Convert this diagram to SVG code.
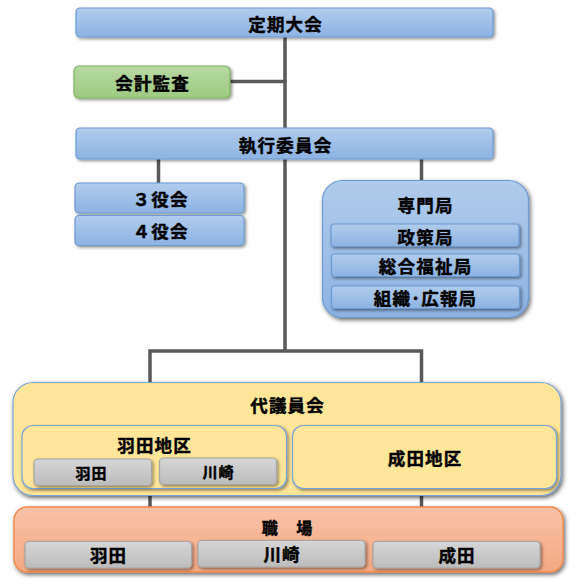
<svg xmlns="http://www.w3.org/2000/svg" width="576" height="580" viewBox="0 0 576 580">
<defs>
<linearGradient id="gBlue" x1="0" y1="0" x2="0" y2="1"><stop offset="0" stop-color="#B0CCEC"/><stop offset="1" stop-color="#8DB3E2"/></linearGradient>
<linearGradient id="gGreen" x1="0" y1="0" x2="0" y2="1"><stop offset="0" stop-color="#B7D9A3"/><stop offset="1" stop-color="#9DCA81"/></linearGradient>
<linearGradient id="gGray" x1="0" y1="0" x2="0" y2="1"><stop offset="0" stop-color="#D6D6D6"/><stop offset="1" stop-color="#BCBCBC"/></linearGradient>
<linearGradient id="gSalmon" x1="0" y1="0" x2="0" y2="1"><stop offset="0" stop-color="#F8C2A7"/><stop offset="1" stop-color="#F4A883"/></linearGradient>
<filter id="sh" x="-10%" y="-20%" width="120%" height="150%"><feDropShadow dx="1.5" dy="1.5" stdDeviation="1.5" flood-color="#000" flood-opacity="0.45"/></filter>
<filter id="shBig" x="-10%" y="-20%" width="120%" height="150%"><feDropShadow dx="1.5" dy="2" stdDeviation="2.2" flood-color="#000" flood-opacity="0.6"/></filter>
</defs>
<style>
.blue{fill:url(#gBlue);stroke:#6C9BD4;stroke-width:1.2}
.green{fill:url(#gGreen);stroke:#7DB65D;stroke-width:1.2}
.gray{fill:url(#gGray);stroke:#A6A6A6;stroke-width:1.2}
.yellow{fill:#FFE699;stroke:#7AA3D6;stroke-width:1.2}
.salmon{fill:url(#gSalmon);stroke:#EE8A4E;stroke-width:1.4}
text{font-family:"Noto Sans CJK JP","Noto Sans CJK SC",sans-serif;font-weight:bold;fill:#000;stroke:#000;stroke-width:0.45;text-anchor:middle;dominant-baseline:central}
.t17{font-size:17.5px;letter-spacing:1.2px}
.t16{font-size:16px;letter-spacing:1.2px}
.t15{font-size:15px;letter-spacing:1px}
.conn{fill:none;stroke:#595959;stroke-width:3.5}
</style>
<g id="connectors" class="conn">
<path d="M285,37 V128"/>
<path d="M230,81.5 H286.7"/>
<path d="M158.5,159 V183"/>
<path d="M421.5,159 V181"/>
<path d="M285,159 V351"/>
<path d="M150,382 V351 H421.5 V382"/>
<path d="M150,495 V507"/>
<path d="M421.5,495 V507"/>
</g>
<g id="teiki-taikai"><rect class="blue" filter="url(#sh)" x="76" y="8" width="417" height="29" rx="4"/><text class="t17" x="285.6" y="23">定期大会</text></g>
<g id="kaikei-kansa"><rect class="green" filter="url(#sh)" x="74" y="66" width="156" height="32" rx="5"/><text class="t17" x="152.6" y="82">会計監査</text></g>
<g id="shikko-iinkai"><rect class="blue" filter="url(#sh)" x="76" y="128" width="417" height="31" rx="4"/><text class="t17" x="285.6" y="144">執行委員会</text></g>
<g id="sanyakukai"><rect class="blue" filter="url(#sh)" x="75" y="183" width="169" height="30" rx="4"/><text class="t17" x="160.6" y="198">３役会</text></g>
<g id="yonyakukai"><rect class="blue" filter="url(#sh)" x="75" y="215.5" width="169" height="30" rx="4"/><text class="t17" x="160.6" y="230.5">４役会</text></g>
<g id="senmonkyoku">
<rect class="blue" filter="url(#shBig)" x="322.5" y="180.5" width="206" height="137" rx="20"/>
<text class="t17" x="425.6" y="204.5">専門局</text>
<g id="seisakukyoku"><rect class="blue" filter="url(#sh)" x="331" y="224" width="188" height="22.5" rx="3"/><text class="t17" x="425.6" y="236">政策局</text></g>
<g id="sogo-fukushikyoku"><rect class="blue" filter="url(#sh)" x="331.5" y="254" width="188" height="22.5" rx="3"/><text class="t17" x="425.6" y="265">総合福祉局</text></g>
<g id="soshiki-kohokyoku"><rect class="blue" filter="url(#sh)" x="331.5" y="286" width="188" height="22.5" rx="3"/><text class="t17" x="425.6" y="297">組織･広報局</text></g>
</g>
<g id="daigiinkai">
<rect class="yellow" filter="url(#shBig)" x="13" y="382.5" width="548" height="113" rx="20"/>
<text class="t17" x="287.6" y="404.5">代議員会</text>
<g id="haneda-chiku">
<rect class="yellow" filter="url(#sh)" x="22" y="425.5" width="264.5" height="63" rx="11"/>
<text class="t17" x="154.6" y="444.5">羽田地区</text>
<g id="haneda-d"><rect class="gray" filter="url(#sh)" x="34" y="459" width="117.5" height="26.5" rx="4"/><text class="t15" x="91.5" y="472.5">羽田</text></g>
<g id="kawasaki-d"><rect class="gray" filter="url(#sh)" x="159.5" y="458" width="117" height="26.5" rx="4"/><text class="t15" x="218.5" y="471">川崎</text></g>
</g>
<g id="narita-chiku">
<rect class="yellow" filter="url(#sh)" x="292.5" y="425.5" width="264" height="63" rx="11"/>
<text class="t17" x="425.1" y="457">成田地区</text>
</g>
</g>
<g id="shokuba">
<rect class="salmon" filter="url(#shBig)" x="14" y="507" width="549" height="65" rx="13"/>
<text class="t16" x="287.6" y="527">職　場</text>
<g id="haneda-s"><rect class="gray" filter="url(#sh)" x="25" y="541.5" width="166.5" height="26.5" rx="4"/><text class="t17" x="108.6" y="554.5">羽田</text></g>
<g id="kawasaki-s"><rect class="gray" filter="url(#sh)" x="198" y="540.5" width="167" height="26.5" rx="4"/><text class="t17" x="282.1" y="553">川崎</text></g>
<g id="narita-s"><rect class="gray" filter="url(#sh)" x="373" y="541.5" width="167" height="26.5" rx="4"/><text class="t17" x="457.1" y="554.5">成田</text></g>
</g>
</svg>
